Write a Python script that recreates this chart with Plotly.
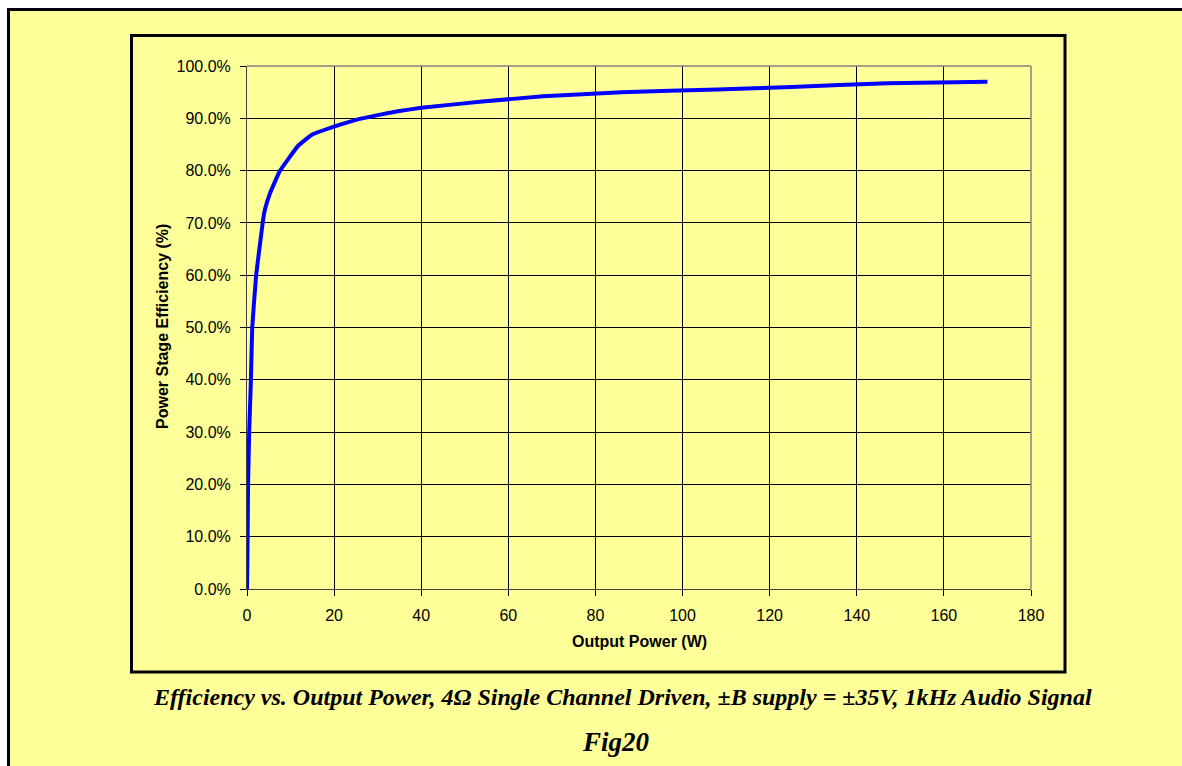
import plotly.graph_objects as go

# ---- data ----
power_w = [0, 0.15, 0.25, 0.5, 0.9, 1.2, 2.1, 3.6, 4.1, 5.3, 7.6, 11.8, 15, 20, 25,
           30, 35, 40, 54, 68, 86, 108, 125, 147, 170]
efficiency = [0.0, 10.0, 20.0, 30.0, 40.0, 50.0, 60.0, 70.0, 72.5, 75.7, 80.0, 84.8, 86.9, 88.4, 89.7,
              90.6, 91.4, 92.0, 93.2, 94.2, 95.0, 95.5, 96.0, 96.7, 97.0]
x_ticks = [0, 20, 40, 60, 80, 100, 120, 140, 160, 180]
y_ticks = [0, 10, 20, 30, 40, 50, 60, 70, 80, 90, 100]
y_tick_labels = [f"{v:.1f}%" for v in y_ticks]

x_title = "Output Power (W)"
y_title = "Power Stage Efficiency (%)"
caption = "Efficiency vs. Output Power, 4Ω Single Channel Driven, ±B supply = ±35V, 1kHz Audio Signal"
fig_label = "Fig20"

# ---- layout geometry (pixels) ----
W, H = 1182, 766
ML, MT, PW, PH = 247, 66, 784, 523
MR = W - ML - PW
MB = H - MT - PH

def px(xp):
    return (xp - ML) / PW

def py(yp):
    return (MT + PH - yp) / PH

YELLOW = "#FFFF99"
SANS = "Liberation Sans, Arial, sans-serif"
SERIF = "Liberation Serif, Times New Roman, serif"

fig = go.Figure()
fig.add_trace(go.Scatter(
    x=power_w, y=efficiency, mode="lines",
    line=dict(color="#0000FF", width=4, shape="spline", smoothing=0.3),
    hoverinfo="skip", showlegend=False,
))

axis_common = dict(
    showgrid=True, gridcolor="#000000", gridwidth=1,
    showline=True, linecolor="#404040", linewidth=1,
    ticks="outside", ticklen=6, tickcolor="#000000", tickwidth=1,
    tickfont=dict(family=SANS, size=16, color="#000000"),
    zeroline=False, fixedrange=True,
)

fig.update_xaxes(range=[0, 180], tickvals=x_ticks, ticktext=[str(v) for v in x_ticks],
                 ticklabelstandoff=6, **axis_common)
fig.update_yaxes(range=[0, 100], tickvals=y_ticks, ticktext=y_tick_labels,
                 ticklabelstandoff=6, **axis_common)

shapes = [
    # outer yellow page area (no border on right/bottom)
    dict(type="rect", xref="paper", yref="paper", layer="below",
         x0=px(8.5), x1=px(W), y0=py(9.5), y1=py(H),
         line=dict(width=0), fillcolor=YELLOW),
    # outer frame: top and left edges only
    dict(type="line", xref="paper", yref="paper", layer="below",
         x0=px(7), x1=px(W), y0=py(9.5), y1=py(9.5),
         line=dict(color="#000000", width=3)),
    dict(type="line", xref="paper", yref="paper", layer="below",
         x0=px(8.5), x1=px(8.5), y0=py(8), y1=py(H),
         line=dict(color="#000000", width=3)),
    # chart frame
    dict(type="rect", xref="paper", yref="paper", layer="below",
         x0=px(131.5), x1=px(1065), y0=py(35.5), y1=py(672),
         line=dict(color="#000000", width=3), fillcolor=YELLOW),
    # plot-area top and right borders (gray)
    dict(type="line", xref="paper", yref="paper", x0=0, x1=1, y0=1, y1=1,
         line=dict(color="#808080", width=1.5)),
    dict(type="line", xref="paper", yref="paper", x0=1, x1=1, y0=0, y1=1,
         line=dict(color="#808080", width=1.5)),
]

annotations = [
    dict(text=f"<b>{x_title}</b>", xref="paper", yref="paper", x=px(639), y=py(641),
         showarrow=False, xanchor="center", yanchor="middle",
         font=dict(family=SANS, size=16, color="#000000")),
    dict(text=f"<b>{y_title}</b>", xref="paper", yref="paper", x=px(162), y=py(327),
         showarrow=False, xanchor="center", yanchor="middle", textangle=-90,
         font=dict(family=SANS, size=16, color="#000000")),
    dict(text=f"<b><i>{caption}</i></b>", xref="paper", yref="paper", x=px(622), y=py(697),
         showarrow=False, xanchor="center", yanchor="middle",
         font=dict(family=SERIF, size=24, color="#000000")),
    dict(text=f"<b><i>{fig_label}</i></b>", xref="paper", yref="paper", x=px(616), y=py(742),
         showarrow=False, xanchor="center", yanchor="middle",
         font=dict(family=SERIF, size=27, color="#000000")),
]

fig.update_layout(
    width=W, height=H, autosize=False,
    margin=dict(l=ML, r=MR, t=MT, b=MB, pad=0),
    paper_bgcolor="#FFFFFF", plot_bgcolor=YELLOW,
    shapes=shapes, annotations=annotations, showlegend=False,
)

fig.write_html(
    "out.html",
    config={"displayModeBar": False},
    post_script="document.body.style.margin='0';document.body.style.overflow='hidden';",
)
